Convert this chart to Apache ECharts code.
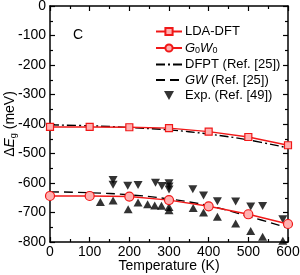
<!DOCTYPE html>
<html>
<head>
<meta charset="utf-8">
<script src="https://cdn.jsdelivr.net/npm/echarts@6/dist/echarts.min.js"></script>
<style>html,body{margin:0;padding:0;background:#fff}#c{width:300px;height:275px}</style>
</head>
<body>
<div id="c"></div>
<script>
var temps = [0, 100, 200, 300, 400, 500, 600];
var ldaDft = [-410, -410, -411, -414, -426, -444, -472];
var g0w0 = [-644, -644, -646, -658, -679, -706, -739];
var dfptT = [0, 100, 200, 300, 400, 500, 600];
var dfpt = [-403, -406, -412, -420, -434, -454, -481];
var gwT = [0, 100, 200, 300, 400, 500, 600];
var gw = [-630, -633, -640, -654, -677, -713, -752];
var expDownT = [159, 159, 196, 222, 266, 282, 300, 300, 300, 360, 387, 422, 468, 506, 536, 587];
var expDownV = [-590, -606, -609, -607, -599, -610, -601, -612, -622, -621, -642, -662, -663, -680, -678, -723];
var expUpT = [127, 159, 197, 222, 246, 264, 281, 300, 300, 361, 387, 422, 468, 506, 536, 587];
var expUpV = [-664, -659, -689, -666, -672, -676, -677, -681, -692, -685, -700, -714, -737, -763, -782, -796];
var xTicks = [0, 100, 200, 300, 400, 500, 600];
var yTicks = [0, -100, -200, -300, -400, -500, -600, -700, -800];

function pairs(xs, ys) { return xs.map(function (x, i) { return [x, ys[i]]; }); }

var FONT = 'Liberation Sans, Arial, Helvetica, sans-serif';
var RED = '#f01818';
var PINK = '#ffb0b0';
var DOWN_TRI = 'path://M0,0L10,0L5,9Z';

var chart = echarts.init(document.getElementById('c'), null, { renderer: 'canvas' });

var xBase = {
  type: 'value', min: xTicks[0], max: xTicks[xTicks.length - 1], interval: 100,
  axisLine: { show: true, onZero: false, lineStyle: { color: '#000', width: 1.5 } },
  axisTick: { show: true, inside: true, length: 5, lineStyle: { color: '#000', width: 1.2 } },
  minorTick: { show: true, splitNumber: 2, length: 3, lineStyle: { color: '#000', width: 1.2 } },
  splitLine: { show: false }
};
var yBase = {
  type: 'value', min: yTicks[yTicks.length - 1], max: yTicks[0], interval: 100,
  axisLine: { show: true, onZero: false, lineStyle: { color: '#000', width: 1.5 } },
  axisTick: { show: true, inside: true, length: 5, lineStyle: { color: '#000', width: 1.2 } },
  minorTick: { show: true, splitNumber: 2, length: 3, lineStyle: { color: '#000', width: 1.2 } },
  splitLine: { show: false }
};

var option = {
  animation: false,
  textStyle: { fontFamily: FONT },
  grid: { left: 50, right: 12, top: 6, bottom: 33, containLabel: false, outerBoundsMode: 'none' },
  graphic: [
    { type: 'text', left: 73, top: 28, style: { text: 'C', font: '14px ' + FONT, fill: '#000' } }
  ],
  legend: {
    orient: 'vertical', left: 150, top: 20, padding: 5, itemWidth: 26, itemHeight: 9, itemGap: 2.5,
    symbolRotate: 0,
    textStyle: {
      fontFamily: FONT, fontSize: 13, color: '#000', padding: [0, 0, 0, -2],
      rich: {
        n: { fontSize: 13, fontFamily: FONT, lineHeight: 13 },
        i: { fontSize: 13, fontFamily: FONT, fontStyle: 'italic', lineHeight: 13 },
        s: { fontSize: 9, fontFamily: FONT, lineHeight: 13, padding: [6, 0, 0, 0] }
      }
    },
    formatter: function (name) {
      if (name === 'G0W0') return '{i|G}{s|0}{i|W}{s|0}';
      if (name === 'GW (Ref. [25])') return '{i|GW}{n| (Ref. [25])}';
      return '{n|' + name + '}';
    },
    data: [
      { name: 'LDA-DFT' },
      { name: 'G0W0' },
      { name: 'DFPT (Ref. [25])', itemStyle: { opacity: 0 } },
      { name: 'GW (Ref. [25])', itemStyle: { opacity: 0 } },
      { name: 'Exp. (Ref. [49])', icon: DOWN_TRI }
    ]
  },
  xAxis: [
    Object.assign({}, xBase, {
      position: 'bottom',
      name: 'Temperature (K)', nameLocation: 'middle', nameGap: 17, nameMoveOverlap: false,
      nameTextStyle: { fontFamily: FONT, fontSize: 14, color: '#000', verticalAlign: 'top' },
      axisLabel: { show: true, margin: 3, fontFamily: FONT, fontSize: 14, color: '#000',
        formatter: function (v) { return xTicks.indexOf(v) >= 0 ? String(v) : ''; } }
    }),
    Object.assign({}, xBase, { position: 'top', axisLabel: { show: false } })
  ],
  yAxis: [
    Object.assign({}, yBase, {
      position: 'left',
      name: '{d|Δ}{i|E}{s|g}{n| (meV)}', nameLocation: 'middle', nameGap: 32, nameRotate: 90,
      nameMoveOverlap: false,
      nameTextStyle: {
        fontFamily: FONT, fontSize: 14, color: '#000',
        rich: {
          d: { fontSize: 14, fontFamily: FONT, lineHeight: 16 },
          n: { fontSize: 14, fontFamily: FONT, lineHeight: 16 },
          i: { fontSize: 14, fontFamily: FONT, fontStyle: 'italic', lineHeight: 16 },
          s: { fontSize: 9, fontFamily: FONT, lineHeight: 16, padding: [7, 0, 0, 0] }
        }
      },
      axisLabel: { show: true, margin: 4, fontFamily: FONT, fontSize: 14, color: '#000',
        formatter: function (v) { return yTicks.indexOf(v) >= 0 ? String(v) : ''; } }
    }),
    Object.assign({}, yBase, { position: 'right', axisLabel: { show: false } })
  ],
  series: [
    {
      name: 'DFPT (Ref. [25])', type: 'line', data: pairs(dfptT, dfpt), smooth: 0.4,
      showSymbol: false, symbol: 'none', z: 2,
      lineStyle: { color: '#000', width: 1.4, type: [9, 3, 2, 3] }, itemStyle: { color: '#000' }
    },
    {
      name: 'GW (Ref. [25])', type: 'line', data: pairs(gwT, gw), smooth: 0.4,
      showSymbol: false, symbol: 'none', z: 2,
      lineStyle: { color: '#000', width: 1.4, type: [9, 5] }, itemStyle: { color: '#000' }
    },
    {
      name: 'Exp. (Ref. [49])', type: 'scatter', data: pairs(expDownT, expDownV),
      symbol: DOWN_TRI, symbolSize: [9, 8], z: 3,
      itemStyle: { color: '#000' }
    },
    {
      name: 'Exp. up', type: 'scatter', data: pairs(expUpT, expUpV),
      symbol: 'triangle', symbolSize: [9, 8], z: 3,
      itemStyle: { color: '#000' }
    },
    {
      name: 'LDA-DFT', type: 'line', data: pairs(temps, ldaDft),
      symbol: 'rect', symbolSize: 7, showAllSymbol: true, z: 4,
      lineStyle: { color: RED, width: 1.4 },
      itemStyle: { color: PINK, borderColor: RED, borderWidth: 1.2 }
    },
    {
      name: 'G0W0', type: 'line', data: pairs(temps, g0w0),
      symbol: 'circle', symbolSize: 9, showAllSymbol: true, z: 4,
      lineStyle: { color: RED, width: 1.4 },
      itemStyle: { color: PINK, borderColor: RED, borderWidth: 1.2 }
    }
  ]
};
chart.setOption(option);
</script>
</body>
</html>
